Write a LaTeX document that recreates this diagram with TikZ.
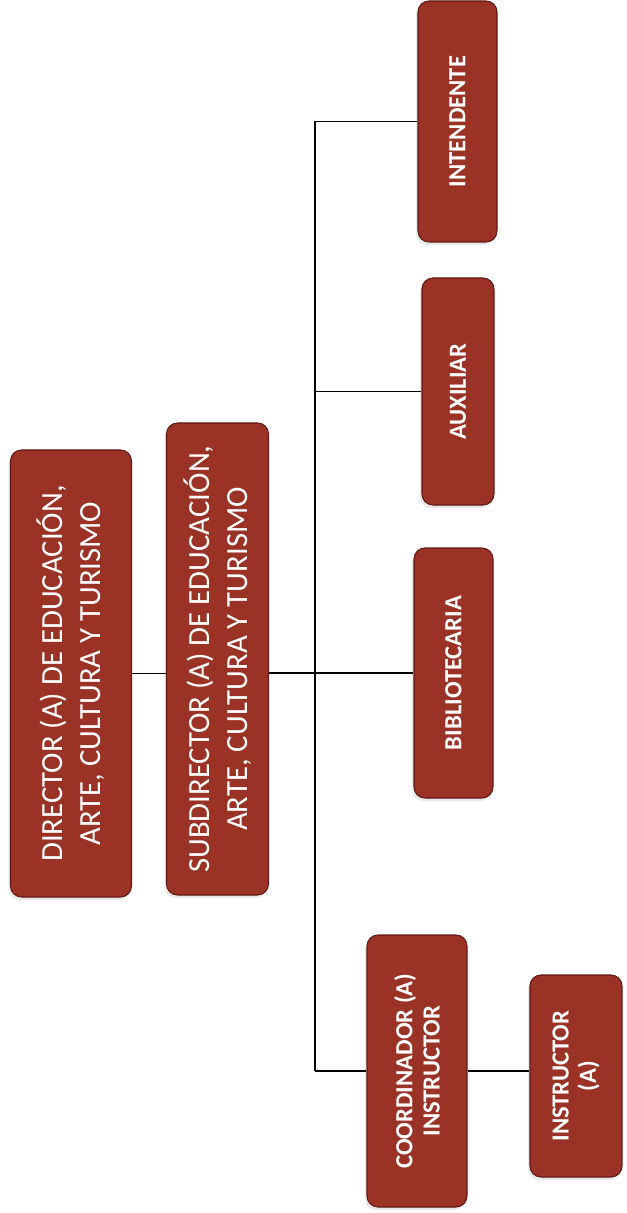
\documentclass[tikz,border=0pt]{standalone}
\usepackage{fontspec}
\setmainfont{Carlito}
\usetikzlibrary{shadows}
\definecolor{boxlight}{RGB}{154,50,38}
\definecolor{boxmid}{RGB}{138,42,31}
\definecolor{boxrim}{RGB}{98,25,19}
\pgfdeclareradialshading{bevel}{\pgfpoint{0bp}{0bp}}{color(0bp)=(boxlight); color(36bp)=(boxlight); color(47bp)=(boxmid); color(72bp)=(boxrim)}
\begin{document}
\begin{tikzpicture}[
  cargo/.style={rotate=90,rounded corners=0.22cm,shading=bevel,draw=boxrim,line width=0.6pt,
    text=white,align=center,inner sep=2pt,
    drop shadow={opacity=0.18,shadow xshift=-0.04cm,shadow yshift=-0.06cm}},
  jefe/.style={cargo,font=\fontsize{17.5}{21.5}\selectfont},
  puesto/.style={cargo,font=\fontsize{14}{15.5}\selectfont\bfseries},
  linea/.style={line width=0.6pt}]
\useasboundingbox (0,0) rectangle (12.52,-24.26);
% directivos
\node[jefe,minimum width=8.94cm,minimum height=2.42cm] (dir) at (1.42,-13.47)
  {DIRECTOR (A) DE EDUCACIÓN,\\ARTE, CULTURA Y TURISMO};
\node[jefe,minimum width=9.44cm,minimum height=2.04cm] (sub) at (4.35,-13.18)
  {SUBDIRECTOR (A) DE EDUCACIÓN,\\ARTE, CULTURA Y TURISMO};
% puestos
\node[puesto,minimum width=4.82cm,minimum height=1.58cm] (inte) at (9.15,-2.43) {INTENDENTE};
\node[puesto,minimum width=4.54cm,minimum height=1.44cm] (aux) at (9.16,-7.83) {AUXILIAR};
\node[puesto,minimum width=5.00cm,minimum height=1.58cm] (bib) at (9.07,-13.46) {BIBLIOTECARIA};
\node[puesto,minimum width=5.44cm,minimum height=2.00cm] (coord) at (8.34,-21.42) {COORDINADOR (A)\\INSTRUCTOR};
\node[puesto,minimum width=4.04cm,minimum height=1.84cm] (inst) at (11.52,-21.52) {INSTRUCTOR\\(A)};
% lineas
\coordinate (trunk) at (6.30,-13.4);
\draw[linea] (dir.south) -- (dir.south -| sub.north);
\draw[linea] (bib.north -| sub.south) -- (bib.north);
\draw[linea] (trunk |- inte.north) -- (trunk |- coord.north);
\foreach \n in {inte,aux,coord}
  \draw[linea] (trunk |- \n.north) -- (\n.north);
\draw[linea] (coord.south) -- (coord.south -| inst.north);
\end{tikzpicture}
\end{document}
